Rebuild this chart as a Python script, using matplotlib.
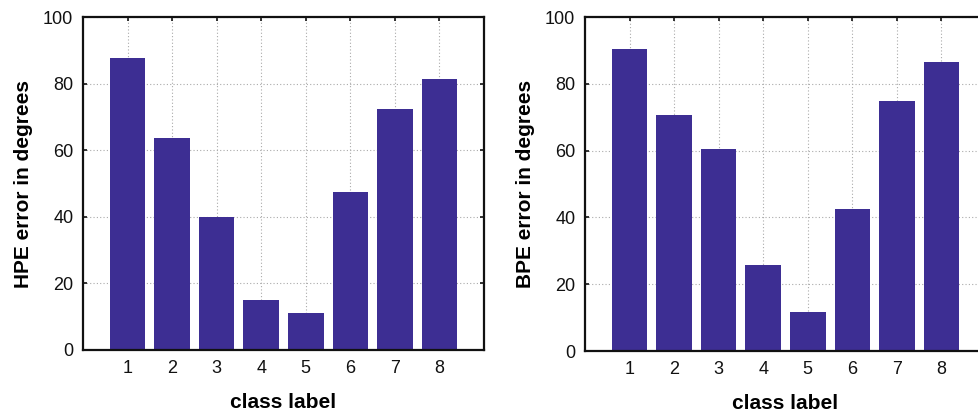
import matplotlib
matplotlib.use("Agg")
import matplotlib.pyplot as plt

classes = [1, 2, 3, 4, 5, 6, 7, 8]
hpe_error = [87.6, 63.6, 40.0, 15.1, 11.2, 47.5, 72.3, 81.3]
bpe_error = [90.4, 70.7, 60.5, 25.6, 11.6, 42.6, 74.9, 86.5]
yticks = [0, 20, 40, 60, 80, 100]
xlabel = "class label"
ylabels = ["HPE error in degrees", "BPE error in degrees"]

plt.rcParams['font.family'] = ['Liberation Sans', 'DejaVu Sans']

fig = plt.figure(figsize=(9.79, 4.12), dpi=100)
bar_color = "#3D2E93"

positions = [
    [83 / 979, 1 - 350 / 412, 401 / 979, 333 / 412],
    [585 / 979, 1 - 351 / 412, 401 / 979, 334 / 412],
]

for pos, vals, ylab in zip(positions, [hpe_error, bpe_error], ylabels):
    ax = fig.add_axes(pos)
    ax.bar(classes, vals, width=0.8, color=bar_color, zorder=2)
    ax.set_xlim(0, 9)
    ax.set_ylim(0, 100)
    ax.set_xticks(classes)
    ax.set_yticks(yticks)
    ax.grid(True, linestyle=(0, (1, 2)), color="#aaaaaa", linewidth=0.8, zorder=0)
    ax.set_axisbelow(True)
    for s in ax.spines.values():
        s.set_linewidth(1.6)
        s.set_color("#111111")
        s.set_zorder(3)
    ax.tick_params(direction="in", length=3, width=1.2, top=True, right=True,
                   labelsize=13, colors="#111111", pad=7)
    ax.set_xlabel(xlabel, fontsize=15, fontweight="bold", labelpad=12)
    ax.set_ylabel(ylab, fontsize=15, fontweight="bold", labelpad=7)

fig.savefig("out.png", dpi=100)
